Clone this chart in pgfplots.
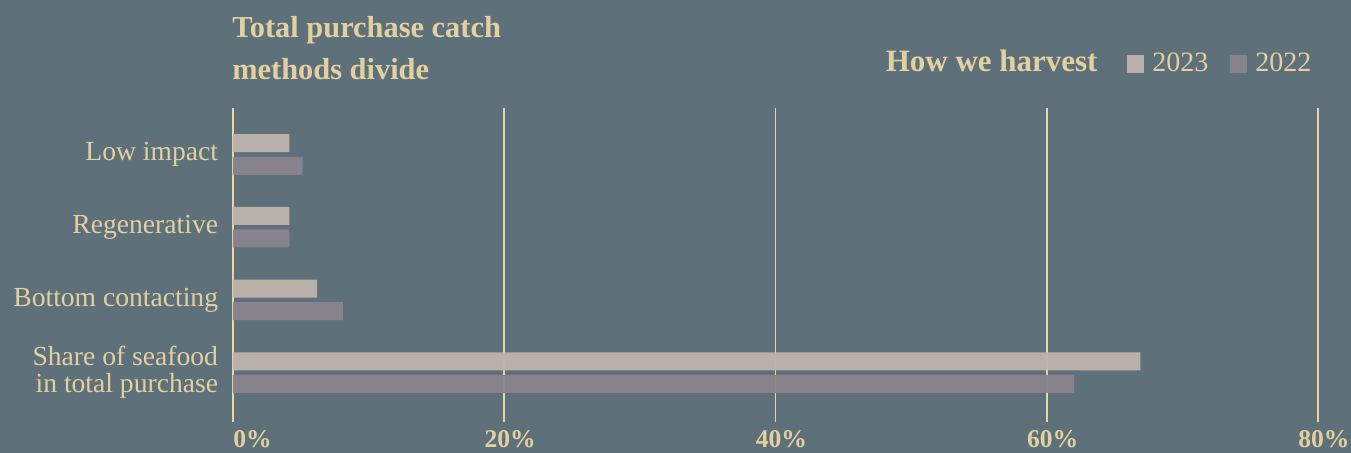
\documentclass[border=0pt]{standalone}
\usepackage{pgfplots}
\pgfplotsset{compat=1.18}
\usepackage{fontspec}
\setmainfont{Liberation Serif}
\definecolor{bg}{RGB}{94,112,121}
\definecolor{tan}{RGB}{226,208,160}
\definecolor{gridc}{RGB}{234,214,162}
\definecolor{cA}{RGB}{190,180,172}
\definecolor{cB}{RGB}{138,132,142}
\begin{document}
\begin{tikzpicture}
\fill[bg] (-116.5pt,-15.5pt) rectangle (559pt,211pt);
\begin{axis}[
  at={(0,0)}, anchor=south west,
  scale only axis, width=542.5pt, height=157pt,
  xbar, xmin=0, xmax=80, ymin=-0.68, ymax=3.64,
  axis line style={draw=none},
  tick style={draw=none},
  xtick={20,40,60,80},
  xticklabels={20\%,40\%,60\%,80\%},
  extra x ticks={0}, extra x tick labels={0\%},
  extra x tick style={xticklabel style={anchor=north west, xshift=-3pt}, grid=major},
  xmajorgrids, grid style={gridc, line width=0.8pt},
  xticklabel style={font=\bfseries\fontsize{12.8}{13}\selectfont, text=tan, inner sep=0pt, xshift=3pt, yshift=-4pt},
  ytick={0,1,2,3},
  yticklabels={{Share of seafood\\in total purchase},{Bottom contacting},{Regenerative},{Low impact}},
  yticklabel style={font=\fontsize{13.8}{13.5}\selectfont, text=tan, align=right, inner sep=0pt, xshift=-3pt},
  bar width=9pt,
  legend style={draw=none, fill=none, text=tan, font=\fontsize{14}{14}\selectfont,
    legend columns=-1, at={(0.824,1.14)}, anchor=west, inner sep=0pt,
    /tikz/every odd column/.append style={column sep=2pt},
    /tikz/every even column/.append style={column sep=9pt},
    legend cell align=left},
  legend image code/.code={\fill[#1,draw=none] (0pt,-4.4pt) rectangle (8.5pt,4.4pt);},
]
\addplot[fill=cA, draw=none, fill opacity=0.95, bar shift=5.65pt] coordinates {(66.9,0) (6.2,1) (4.15,2) (4.15,3)};
\addplot[fill=cB, draw=none, fill opacity=0.95, bar shift=-5.65pt] coordinates {(62.0,0) (8.1,1) (4.15,2) (5.13,3)};
\legend{2023,2022}
\end{axis}
\node[anchor=base west, inner sep=0pt, text=tan, font=\bfseries\fontsize{15.2}{18}\selectfont] at (-0.5pt,192pt) {Total purchase catch};
\node[anchor=base west, inner sep=0pt, text=tan, font=\bfseries\fontsize{15.2}{18}\selectfont] at (-0.5pt,171pt) {methods divide};
\node[anchor=base east, inner sep=0pt, text=tan, font=\bfseries\fontsize{15.5}{18}\selectfont] at (432.5pt,175pt) {How we harvest};
\pgfresetboundingbox
\path[use as bounding box] (-116.5pt,-15.5pt) rectangle (559pt,211pt);
\end{tikzpicture}
\end{document}
